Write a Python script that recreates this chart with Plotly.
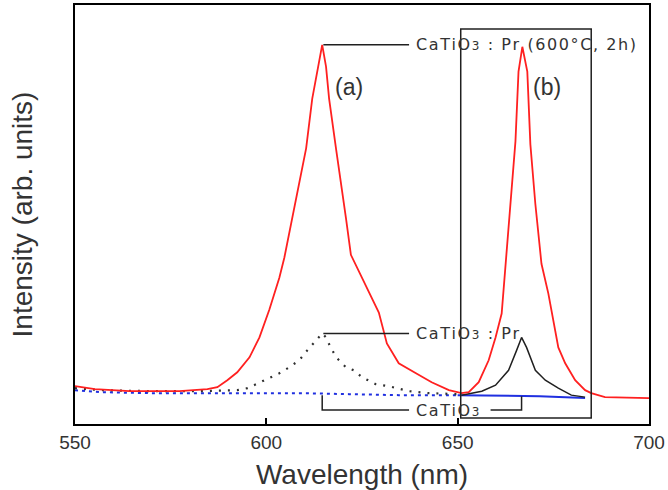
import plotly.graph_objects as go

# ---- data (intensity in arbitrary units) ----
red_wl = [550.0, 555.2, 564.3, 577.3, 584.6, 587.2, 589.8, 592.4, 595.6, 598.2, 600.8, 603.4, 604.7,
          606.8, 608.6, 610.4, 612.0, 613.3, 614.6, 615.6, 616.4, 618.2, 619.5, 620.8, 622.1, 624.2,
          626.0, 629.4, 631.5, 634.6, 639.1, 643.2, 647.7, 651.0, 652.9, 655.5, 658.1, 659.9, 661.5,
          662.5, 663.8, 665.1, 665.9, 666.9, 668.2, 669.0, 670.3, 671.9, 673.7, 675.0, 676.3, 678.1,
          680.7, 683.3, 684.9, 688.5, 700.0]
red_int = [38, 35, 33, 33, 35, 37, 44, 52, 67, 87, 115, 147, 167,
           207, 244, 277, 327, 354, 381, 359, 327, 277, 244, 207, 170, 153,
           140, 112, 81, 61, 51, 42, 34, 31, 32, 42, 64, 87, 111,
           161, 221, 284, 354, 379, 354, 281, 221, 161, 131, 104, 77, 61,
           44, 34, 31, 27, 26]

dot_wl = [550.0, 556.5, 569.5, 582.6, 592.4, 595.1, 597.9, 601.3, 603.4, 606.0, 608.6, 610.7, 613.0,
          614.6, 615.6, 616.9, 618.5, 620.8, 622.9, 625.0, 628.6, 632.0, 637.2, 642.4, 650.0]
dot_int = [36, 34, 33, 33, 34, 36, 41, 47, 51, 57, 64, 74, 84,
           91, 87, 76, 66, 57, 54, 47, 40, 38, 33, 31, 30]

blk_wl = [651.0, 656.3, 659.9, 663.3, 665.4, 666.7, 668.0, 670.3, 672.9, 676.3, 679.7, 683.3]
blk_int = [29, 33, 39, 54, 74, 87, 77, 54, 44, 36, 29, 27]

blue_dot_wl = [550.0, 556.5, 569.5, 608.6, 621.6, 634.6, 650.0]
blue_dot_int = [34, 32, 31, 31, 30, 29, 29]
blue_wl = [650.0, 671.4, 683.3]
blue_int = [29, 28, 26]

x_ticks = [550, 600, 650, 700]
box_b = [650.8, 684.9]          # wavelength window of inset (b)

AX = "#000000"
TXT = "#333333"
FONT = "Liberation Sans, Arial, sans-serif"
HS = "\u200a"  # hair space for the letter-spaced labels


def spaced(s):
    return HS.join(s)


fig = go.Figure()
fig.add_trace(go.Scatter(x=blue_dot_wl, y=blue_dot_int, mode="lines",
                         line=dict(color="#2030e0", width=2, dash="3px,4px"), showlegend=False))
fig.add_trace(go.Scatter(x=dot_wl, y=dot_int, mode="lines",
                         line=dict(color="#303030", width=2.2, dash="2px,7px"), showlegend=False))
fig.add_trace(go.Scatter(x=blue_wl, y=blue_int, mode="lines",
                         line=dict(color="#2030e0", width=2), showlegend=False))
fig.add_trace(go.Scatter(x=blk_wl, y=blk_int, mode="lines",
                         line=dict(color="#202020", width=1.5), showlegend=False))
fig.add_trace(go.Scatter(x=red_wl, y=red_int, mode="lines",
                         line=dict(color="#ff2020", width=1.8), showlegend=False))

# peaks derived from data
ia = max(range(len(red_wl)), key=lambda i: red_int[i] if red_wl[i] < 640 else -1)
pa_x, pa_y = red_wl[ia], red_int[ia]
idot = max(range(len(dot_wl)), key=lambda i: dot_int[i])
d_x, d_y = dot_wl[idot], dot_int[idot]
ib = max(range(len(blk_wl)), key=lambda i: blk_int[i])

line_end = 637.3
text_x = 638.6
brk_y = 14
shapes = [
    dict(type="rect", xref="x", yref="y", x0=box_b[0], x1=box_b[1], y0=6, y1=397,
         line=dict(color="#202020", width=1.5)),
    dict(type="line", xref="x", yref="y", x0=pa_x + 0.3, x1=line_end, y0=pa_y, y1=pa_y,
         line=dict(color="#202020", width=1.5)),
    dict(type="line", xref="x", yref="y", x0=d_x + 0.3, x1=line_end, y0=d_y, y1=d_y,
         line=dict(color="#202020", width=1.5)),
    dict(type="path", xref="x", yref="y",
         path=f"M {pa_x},{29} L {pa_x},{brk_y} L {line_end},{brk_y}",
         line=dict(color="#202020", width=1.5)),
    dict(type="path", xref="x", yref="y",
         path=f"M 658.6,{brk_y} L {blk_wl[ib]},{brk_y} L {blk_wl[ib]},{28}",
         line=dict(color="#202020", width=1.5)),
]

small = "<span style='font-size:12px'>3</span>"
ann_font = dict(family="DejaVu Sans, sans-serif", size=16, color=TXT)
lbl_top = spaced("CaTiO") + HS + small + HS + spaced(" : Pr (600°C, 2h)")
lbl_mid = spaced("CaTiO") + HS + small + HS + spaced(" : Pr")
lbl_bot = spaced("CaTiO") + HS + small
annotations = [
    dict(x=text_x, y=pa_y, xref="x", yref="y", text=lbl_top,
         showarrow=False, xanchor="left", yanchor="middle", font=ann_font),
    dict(x=text_x, y=d_y, xref="x", yref="y", text=lbl_mid,
         showarrow=False, xanchor="left", yanchor="middle", font=ann_font),
    dict(x=text_x, y=brk_y, xref="x", yref="y", text=lbl_bot,
         showarrow=False, xanchor="left", yanchor="middle", font=ann_font),
    dict(x=621.6, y=339, xref="x", yref="y", text="(a)", showarrow=False,
         font=dict(family=FONT, size=23, color=TXT)),
    dict(x=673.4, y=339, xref="x", yref="y", text="(b)", showarrow=False,
         font=dict(family=FONT, size=23, color=TXT)),
]

fig.update_layout(
    width=668, height=490,
    margin=dict(l=75, r=17, t=3, b=66),
    paper_bgcolor="white", plot_bgcolor="white",
    shapes=shapes, annotations=annotations,
    font=dict(family=FONT, color=TXT),
    xaxis=dict(range=[550, 700], tickvals=x_ticks, ticktext=[str(v) for v in x_ticks],
               ticks="inside", ticklen=6, tickwidth=1.5, tickcolor=AX,
               showline=True, linecolor=AX, linewidth=1.5, mirror=True,
               showgrid=False, zeroline=False,
               tickfont=dict(family=FONT, size=19, color=TXT),
               title=dict(text="Wavelength (nm)", font=dict(family=FONT, size=28, color=TXT),
                          standoff=14)),
    yaxis=dict(range=[0, 421], showticklabels=False, ticks="",
               showline=True, linecolor=AX, linewidth=1.5, mirror=True,
               showgrid=False, zeroline=False,
               title=dict(text="Intensity (arb. units)", font=dict(family=FONT, size=28, color=TXT),
                          standoff=32)),
)

fig.write_html("out.html")
